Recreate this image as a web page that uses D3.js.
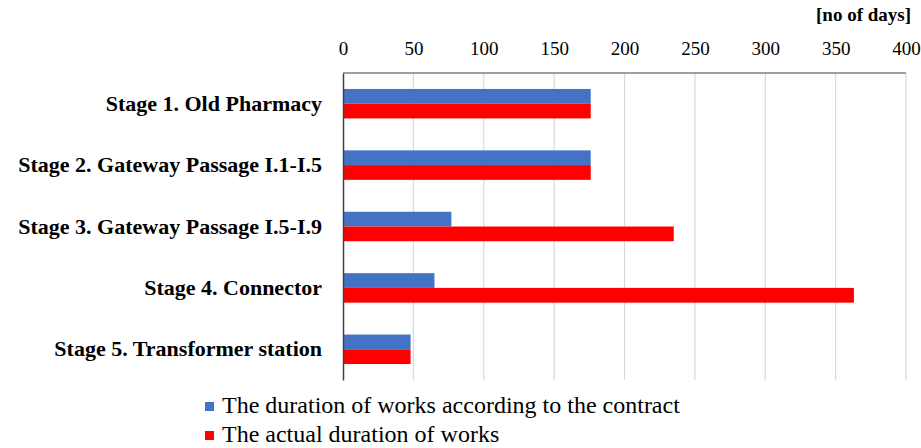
<!DOCTYPE html>
<html>
<head>
<meta charset="utf-8">
<script src="https://cdn.jsdelivr.net/npm/d3@7"></script>
<style>
  body { margin: 0; background: #fff; }
  svg { display: block; }
  text { font-family: "Liberation Serif", "Times New Roman", serif; }
</style>
</head>
<body>
<svg id="chart"></svg>
<script>
const stages = [
  "Stage 1. Old Pharmacy",
  "Stage 2. Gateway Passage I.1-I.5",
  "Stage 3. Gateway Passage I.5-I.9",
  "Stage 4. Connector",
  "Stage 5. Transformer station"
];
const contractDays = [176, 176, 77, 65, 48];
const actualDays = [176, 176, 235, 363, 48];
const seriesNames = [
  "The duration of works according to the contract",
  "The actual duration of works"
];
const seriesColors = ["#4472C4", "#FF0000"];
const xTicks = [0, 50, 100, 150, 200, 250, 300, 350, 400];

const width = 921;
const height = 448;
const margin = { top: 73, right: 15, bottom: 68, left: 343 };
const innerHeight = height - margin.top - margin.bottom;

const svg = d3.select("#chart").attr("width", width).attr("height", height);
const chartArea = svg.append("g").attr("transform", `translate(${margin.left},${margin.top})`);

const data = stages.map((s, i) => ({ stage: s, values: [contractDays[i], actualDays[i]] }));

const xScale = d3.scaleLinear().domain([0, 400]).range([0, 563]);
const yScale = d3.scaleBand().domain(stages).range([0, innerHeight]).paddingInner(0.52).paddingOuter(0.26);
const sub = d3.scaleBand().domain([0, 1]).range([0, yScale.bandwidth()]);

// Gridlines
chartArea.append("g")
  .selectAll("line")
  .data(xTicks.slice(1))
  .enter()
  .append("line")
  .attr("x1", (d) => xScale(d))
  .attr("x2", (d) => xScale(d))
  .attr("y1", 0)
  .attr("y2", innerHeight)
  .attr("stroke", "#d9d9d9")
  .attr("stroke-width", 1.2);

// Top axis line + labels
chartArea.append("line")
  .attr("x1", 0)
  .attr("x2", xScale(400))
  .attr("y1", 0)
  .attr("y2", 0)
  .attr("stroke", "#7f7f7f")
  .attr("stroke-width", 1.5);

const xAxis = chartArea.append("g")
  .attr("transform", "translate(0,-18)")
  .call(d3.axisTop(xScale).tickValues(xTicks).tickSize(0).tickPadding(0));
xAxis.select(".domain").remove();
xAxis.selectAll("text")
  .attr("font-family", null)
  .style("font-family", "'Liberation Serif', 'Times New Roman', serif")
  .style("font-size", "19px")
  .style("fill", "#000");

svg.append("text")
  .attr("x", 911)
  .attr("y", 21)
  .attr("text-anchor", "end")
  .style("font-size", "19px")
  .style("font-weight", "bold")
  .text("[no of days]");

// Bars
const groups = chartArea.selectAll(".stage")
  .data(data)
  .enter()
  .append("g")
  .attr("class", "stage")
  .attr("transform", (d) => `translate(0,${yScale(d.stage)})`);

groups.selectAll("rect")
  .data((d) => d.values)
  .enter()
  .append("rect")
  .attr("x", 0)
  .attr("y", (d, i) => sub(i))
  .attr("width", (d) => xScale(d))
  .attr("height", sub.bandwidth())
  .attr("fill", (d, i) => seriesColors[i]);

// Category axis
const yAxis = chartArea.append("g").call(d3.axisLeft(yScale).tickSize(0).tickPadding(21));
yAxis.select(".domain").attr("stroke", "#404040").attr("stroke-width", 1.5);
yAxis.selectAll("text")
  .style("font-family", "'Liberation Serif', 'Times New Roman', serif")
  .style("font-size", "22px")
  .style("font-weight", "bold")
  .style("fill", "#000");

// Legend
const legend = svg.append("g").attr("transform", "translate(205,0)");
seriesNames.forEach((name, i) => {
  const baseY = 413 + i * 29;
  legend.append("rect")
    .attr("x", 0)
    .attr("y", baseY - 11)
    .attr("width", 9)
    .attr("height", 9)
    .attr("fill", seriesColors[i]);
  legend.append("text")
    .attr("x", 17)
    .attr("y", baseY)
    .style("font-size", "24px")
    .style("fill", "#000")
    .text(name);
});
</script>
</body>
</html>
